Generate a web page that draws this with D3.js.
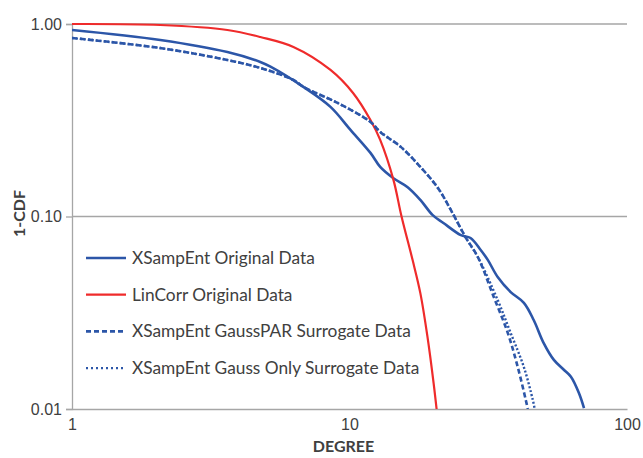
<!DOCTYPE html>
<html>
<head>
<meta charset="utf-8">
<script src="https://cdn.jsdelivr.net/npm/d3@7"></script>
<style>
  body { margin: 0; background: #fff; }
  svg { display: block; font-family: Lato, "Open Sans", sans-serif; }
</style>
</head>
<body>
<div id="chart"></div>
<script>
// Degree / 1-CDF readings per series
const xsampDegree = [1.0, 2.08, 3.63, 4.77, 5.19, 6.82, 8.54, 10.1, 11.9, 12.9, 14.4, 16.2, 18.0, 19.9, 21.8, 25.2, 27.3, 29.7, 31.5, 34.2, 38.1, 42.5, 46.1, 50.1, 54.5, 59.2, 62.8, 67.1, 70.0];
const xsampCdf =    [0.931, 0.826, 0.715, 0.635, 0.600, 0.471, 0.371, 0.281, 0.214, 0.181, 0.158, 0.142, 0.122, 0.102, 0.0925, 0.080, 0.0773, 0.067, 0.0595, 0.0485, 0.0405, 0.0356, 0.029, 0.022, 0.018, 0.016, 0.0147, 0.0121, 0.0101];

const linDegree = [1.0, 2.08, 3.63, 4.77, 6.28, 8.54, 10.3, 11.9, 12.9, 14.4, 15.4, 16.9, 18.0, 19.1, 20.1, 20.6];
const linCdf =    [1.0, 0.988, 0.931, 0.856, 0.76, 0.577, 0.438, 0.317, 0.25, 0.155, 0.1, 0.059, 0.040, 0.0237, 0.0136, 0.01];

const parDegree = [1.0, 2.08, 3.63, 4.77, 6.28, 6.82, 9.06, 11.9, 12.9, 15.3, 18.0, 20.8, 23.2, 26.2, 29.0, 33.1, 37.2, 40.4, 43.2, 43.9];
const parCdf =    [0.846, 0.750, 0.650, 0.591, 0.512, 0.471, 0.389, 0.310, 0.275, 0.230, 0.181, 0.141, 0.108, 0.078, 0.0616, 0.0382, 0.0248, 0.0165, 0.0111, 0.01];

const gaussDegree = [1.0, 2.08, 3.63, 4.77, 6.28, 6.82, 9.06, 11.9, 12.9, 15.3, 18.0, 20.8, 23.2, 26.2, 29.0, 34.2, 38.1, 42.5, 45.8, 46.5];
const gaussCdf =    [0.846, 0.750, 0.650, 0.591, 0.512, 0.471, 0.389, 0.310, 0.275, 0.230, 0.181, 0.141, 0.108, 0.078, 0.0616, 0.0368, 0.0248, 0.0165, 0.0111, 0.01];

const seriesNames = ["XSampEnt Original Data", "LinCorr Original Data", "XSampEnt GaussPAR Surrogate Data", "XSampEnt Gauss Only Surrogate Data"];
const yTicks = [0.01, 0.1, 1];
const xTicks = [1, 10, 100];

const W = 643, H = 458;
const margin = { top: 24, right: 16, bottom: 49, left: 72 };
const width = W - margin.left - margin.right;
const height = H - margin.top - margin.bottom;

const svgRoot = d3.select("#chart").append("svg")
  .attr("width", W).attr("height", H);
const svg = svgRoot.append("g")
  .attr("transform", `translate(${margin.left},${margin.top})`);

const x = d3.scaleLog().domain([1, 100]).range([0, width]);
const y = d3.scaleLog().domain([0.01, 1]).range([height, 0]);

// gridlines
svg.selectAll(".grid")
  .data(yTicks.filter(d => d > 0.01))
  .enter().append("line")
  .attr("x1", 0).attr("x2", width)
  .attr("y1", d => y(d)).attr("y2", d => y(d))
  .attr("stroke", "#a6a6a6").attr("stroke-width", 1.3);

// y axis
const yAxis = svg.append("g")
  .call(d3.axisLeft(y).tickValues(yTicks).tickFormat(d3.format(".2f")).tickSize(6).tickPadding(4));
yAxis.select(".domain").attr("stroke", "#a6a6a6").attr("stroke-width", 1.3);
yAxis.selectAll(".tick line").attr("stroke", "#a6a6a6").attr("stroke-width", 1.3);
yAxis.selectAll("text").style("font-size", "16px").attr("fill", "#404040");

// x axis
const xAxis = svg.append("g")
  .attr("transform", `translate(0,${height})`)
  .call(d3.axisBottom(x).tickValues(xTicks).tickFormat(d3.format("d")).tickSize(0).tickPadding(10));
xAxis.select(".domain").attr("stroke", "#a6a6a6").attr("stroke-width", 1.3);
xAxis.selectAll("text").style("font-size", "16px").attr("fill", "#404040");

// axis titles
svg.append("text")
  .attr("x", width / 2 - 6).attr("y", height + 43)
  .attr("text-anchor", "middle")
  .style("font-size", "16px").style("font-weight", "bold").attr("fill", "#404040")
  .text("DEGREE");
svg.append("text")
  .attr("transform", `translate(${-47},${height / 2 - 3}) rotate(-90)`)
  .attr("text-anchor", "middle")
  .style("font-size", "16px").style("font-weight", "bold").attr("fill", "#404040")
  .text("1-CDF");

svgRoot.append("defs").append("clipPath").attr("id", "plot-clip")
  .append("rect").attr("x", 0).attr("y", -2).attr("width", width).attr("height", height + 2);

const blue = "#2c56a8", red = "#ef2b2b";
const series = [
  { name: seriesNames[0], xs: xsampDegree, ys: xsampCdf, color: blue, w: 2.6, dash: null },
  { name: seriesNames[1], xs: linDegree, ys: linCdf, color: red, w: 2.2, dash: null },
  { name: seriesNames[3], xs: gaussDegree, ys: gaussCdf, color: blue, w: 2.4, dash: "2,2" },
  { name: seriesNames[2], xs: parDegree, ys: parCdf, color: blue, w: 2.6, dash: "5,3" }
];

const line = d3.line()
  .x(d => x(d[0])).y(d => y(d[1]))
  .curve(d3.curveCatmullRom.alpha(0.5));

const plot = svg.append("g").attr("clip-path", "url(#plot-clip)");
plot.selectAll(".series")
  .data(series)
  .enter().append("path")
  .attr("d", s => line(s.xs.map((v, i) => [v, s.ys[i]])))
  .attr("fill", "none")
  .attr("stroke", s => s.color)
  .attr("stroke-width", s => s.w)
  .attr("stroke-dasharray", s => s.dash);

// legend
const legendItems = [
  { name: seriesNames[0], color: blue, w: 2.6, dash: null },
  { name: seriesNames[1], color: red, w: 2.2, dash: null },
  { name: seriesNames[2], color: blue, w: 2.6, dash: "5,3" },
  { name: seriesNames[3], color: blue, w: 2.2, dash: "2,3" }
];
const legend = svg.append("g").attr("transform", "translate(14,234)");
const rows = legend.selectAll(".row")
  .data(legendItems)
  .enter().append("g")
  .attr("transform", (d, i) => `translate(0,${i * 36.7})`);
rows.append("line")
  .attr("x1", 0).attr("x2", 40).attr("y1", 0).attr("y2", 0)
  .attr("stroke", d => d.color)
  .attr("stroke-width", d => d.w)
  .attr("stroke-dasharray", d => d.dash);
rows.append("text")
  .attr("x", 46).attr("y", 0).attr("dy", "0.35em")
  .style("font-size", "17.3px").attr("fill", "#404040")
  .text(d => d.name);
</script>
</body>
</html>
